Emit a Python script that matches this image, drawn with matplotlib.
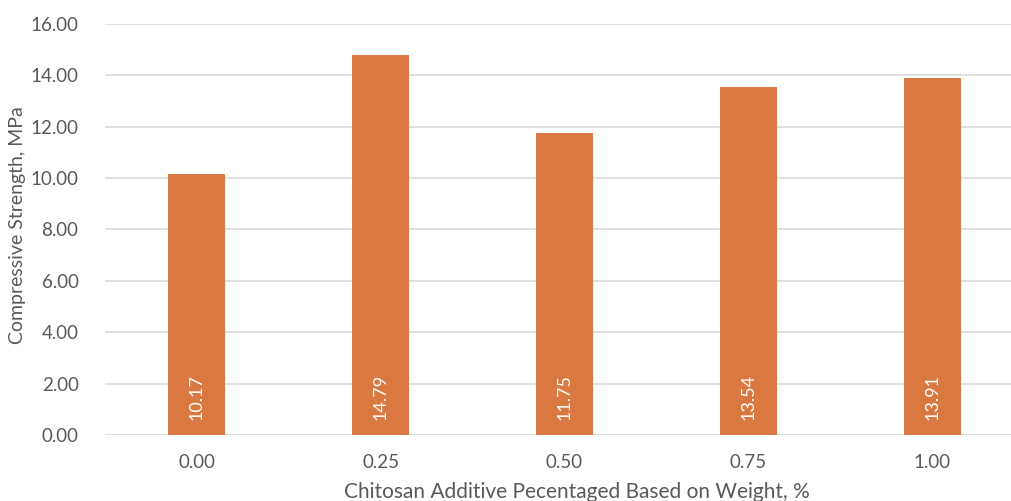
import matplotlib.pyplot as plt
import matplotlib.transforms as mtransforms

categories = ['0.00', '0.25', '0.50', '0.75', '1.00']
strength = [10.17, 14.79, 11.75, 13.54, 13.91]
yticks = [0, 2, 4, 6, 8, 10, 12, 14, 16]

bar_color = '#D97941'
text_color = '#595959'
grid_color = '#D9D9D9'

plt.rcParams['font.family'] = ['Lato', 'DejaVu Sans']

fig = plt.figure(figsize=(10.12, 5.01), dpi=100)
ax = fig.add_axes([105 / 1012, 1 - 435 / 501, 919 / 1012, 411 / 501])

x = range(len(categories))
ax.bar(x, strength, width=0.31, color=bar_color, zorder=3)

# value labels sit upright inside each bar, near the base
offset = mtransforms.offset_copy(ax.transData, fig=fig, x=0, y=15, units='dots')
for i, v in enumerate(strength):
    ax.text(i, 0, f'{v:.2f}', rotation=90, ha='center', va='bottom',
            color='white', fontsize=13, transform=offset, zorder=4)

ax.set_xlim(-0.5, len(categories) - 0.5)
ax.set_ylim(0, 16)
ax.set_xticks(list(x))
ax.set_xticklabels(categories)
ax.set_yticks(yticks)
ax.set_yticklabels([f'{t:.2f}' for t in yticks])
ax.tick_params(length=0, labelsize=13.5, colors=text_color)
ax.tick_params(axis='x', pad=14)
ax.tick_params(axis='y', pad=19)
ax.grid(axis='y', color=grid_color, linewidth=1.2, zorder=0)
for s in ax.spines.values():
    s.set_visible(False)

fig.text(18 / 1012, 1 - 225 / 501, 'Compressive Strength, MPa', rotation=90,
         ha='center', va='center', fontsize=14, color=text_color)
fig.text(577 / 1012, 1 - 492 / 501, 'Chitosan Additive Pecentaged Based on Weight, %',
         ha='center', va='center', fontsize=15, color=text_color)

fig.savefig('out.png', dpi=100)
